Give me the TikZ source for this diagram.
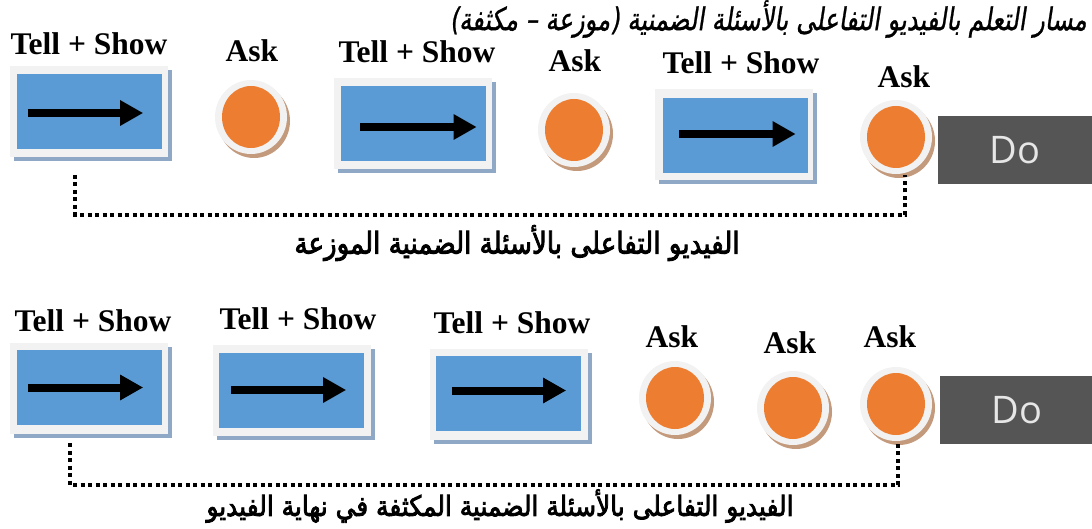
\documentclass[tikz,border=0pt]{standalone}
\usepackage{fontspec}
\usepackage{graphicx}
\setmainfont{Liberation Serif}
\newfontfamily\arabicfont[Script=Arabic]{DejaVu Sans}
\newfontfamily\arabicbold[Script=Arabic,FakeBold=3]{DejaVu Sans}
\newfontfamily\arabicit[Script=Arabic,FakeSlant=0.2,FakeBold=1]{DejaVu Sans}
\newfontfamily\dofont{Open Sans}
\TeXXeTstate=1
\usetikzlibrary{shadows,arrows.meta,shapes.geometric}
\definecolor{boxblue}{HTML}{5B9BD5}
\definecolor{framegray}{HTML}{F2F2F2}
\definecolor{boxshadow}{HTML}{8FA8C6}
\definecolor{askorange}{HTML}{ED7D31}
\definecolor{ringshadow}{HTML}{C49A7C}
\definecolor{dogray}{HTML}{555555}
\definecolor{dotext}{HTML}{E6E6E6}
\tikzset{
  frame/.style={fill=framegray, minimum width=158pt, minimum height=91pt, inner sep=0pt,
    drop shadow={shadow xshift=4pt, shadow yshift=-4pt, fill=boxshadow, opacity=1}},
  bluebox/.style={fill=boxblue, minimum width=145pt, minimum height=75pt, inner sep=0pt},
  flowarrow/.style={line width=8pt, -{Triangle[length=23pt,width=24pt]}},
  ring/.style={ellipse, fill=framegray, minimum width=72pt, minimum height=74pt, inner sep=0pt,
    drop shadow={shadow xshift=3pt, shadow yshift=-4pt, fill=ringshadow, opacity=1}},
  askdot/.style={ellipse, fill=askorange, minimum width=58pt, minimum height=62pt, inner sep=0pt},
  lbl/.style={font=\fontsize{31.5}{33}\selectfont\bfseries, anchor=base, inner sep=0pt},
  dobox/.style={fill=dogray, minimum width=154pt, minimum height=68pt, inner sep=0pt, anchor=west,
    text=dotext, font=\dofont\fontsize{38}{40}\selectfont},
  dotline/.style={line width=4pt, dash pattern=on 4pt off 3.5pt},
  subt/.style={inner sep=0pt}
}
\begin{document}
\begin{tikzpicture}[x=1pt,y=-1pt]
\useasboundingbox (0,0) rectangle (1092,529);
% title
\node[subt, anchor=east] (title) at (1087,19)
  {\scalebox{1}[1.3]{\resizebox{637pt}{!}{\arabicit\fontsize{24}{28}\selectfont\beginR مسار التعلم بالفيديو التفاعلى بالأسئلة الضمنية (موزعة – مكثفة)\endR}}};
% ---------- top row ----------
\node[lbl] (l1) at (89,55) {Tell + Show};
\node[frame] (f1) at (88.5,112) {};
\node[bluebox] (b1) at (89.5,111.5) {};
\draw[flowarrow] ([xshift=11pt,yshift=-1.5pt]b1.west) -- ([xshift=-19pt,yshift=-1.5pt]b1.east);

\node[lbl] (a1) at (252,62) {Ask};
\node[ring] (r1) at (251,117) {};
\node[askdot] (c1) at (r1) {};

\node[lbl] (l2) at (417,63) {Tell + Show};
\node[frame] (f2) at (413,124) {};
\node[bluebox] (b2) at (413,123.5) {};
\draw[flowarrow] ([xshift=20pt,yshift=-3.5pt]b2.west) -- ([xshift=-9pt,yshift=-3.5pt]b2.east);

\node[lbl] (a2) at (575,72) {Ask};
\node[ring] (r2) at (574,130) {};
\node[askdot] (c2) at (r2) {};

\node[lbl] (l3) at (741,74) {Tell + Show};
\node[frame] (f3) at (734,135) {};
\node[bluebox] (b3) at (735,135.5) {};
\draw[flowarrow] ([xshift=17pt,yshift=1.5pt]b3.west) -- ([xshift=-12pt,yshift=1.5pt]b3.east);

\node[lbl] (a3) at (904,88) {Ask};
\node[ring] (r3) at (896,137) {};
\node[askdot] (c3) at (r3) {};

\node[dobox] (d1) at (938,150) {Do};

\coordinate (p1) at (75,175);
\coordinate (p2) at (905,175);
\draw[dotline] (p1) -- ++(0,40) -| (p2);

\node[subt] (s1) at (517,243)
  {\scalebox{1}[1.15]{\resizebox{445pt}{!}{\arabicbold\fontsize{24}{28}\selectfont\beginR الفيديو التفاعلى بالأسئلة الضمنية الموزعة\endR}}};

% ---------- bottom row ----------
\node[lbl] (l4) at (93,331) {Tell + Show};
\node[frame] (f4) at (88.5,388) {};
\node[bluebox] (b4) at (89.5,387.5) {};
\draw[flowarrow] ([xshift=11pt]b4.west) -- ([xshift=-19pt]b4.east);

\node[lbl] (l5) at (298,329) {Tell + Show};
\node[frame] (f5) at (291.5,390) {};
\node[bluebox] (b5) at (291.5,390) {};
\draw[flowarrow] ([xshift=12pt]b5.west) -- ([xshift=-18pt]b5.east);

\node[lbl] (l6) at (512,333) {Tell + Show};
\node[frame] (f6) at (509,394) {};
\node[bluebox] (b6) at (508.5,393.5) {};
\draw[flowarrow] ([xshift=16pt,yshift=3pt]b6.west) -- ([xshift=-15pt,yshift=3pt]b6.east);

\node[lbl] (a4) at (672,347) {Ask};
\node[ring] (r4) at (675,398) {};
\node[askdot] (c4) at (r4) {};

\node[lbl] (a5) at (790,353) {Ask};
\node[ring] (r5) at (793,408) {};
\node[askdot] (c5) at (r5) {};

\node[lbl] (a6) at (890,347) {Ask};
\node[ring] (r6) at (896,404) {};
\node[askdot] (c6) at (r6) {};

\node[dobox] (d2) at (940,410) {Do};

\coordinate (q1) at (70,443);
\coordinate (q2) at (898,443);
\draw[dotline] (q1) -- ++(0,42) -| (q2);

\node[subt] (s2) at (500,506)
  {\scalebox{1}[1.12]{\resizebox{587pt}{!}{\arabicbold\fontsize{24}{28}\selectfont\beginR الفيديو التفاعلى بالأسئلة الضمنية المكثفة في نهاية الفيديو\endR}}};
\end{tikzpicture}
\end{document}
